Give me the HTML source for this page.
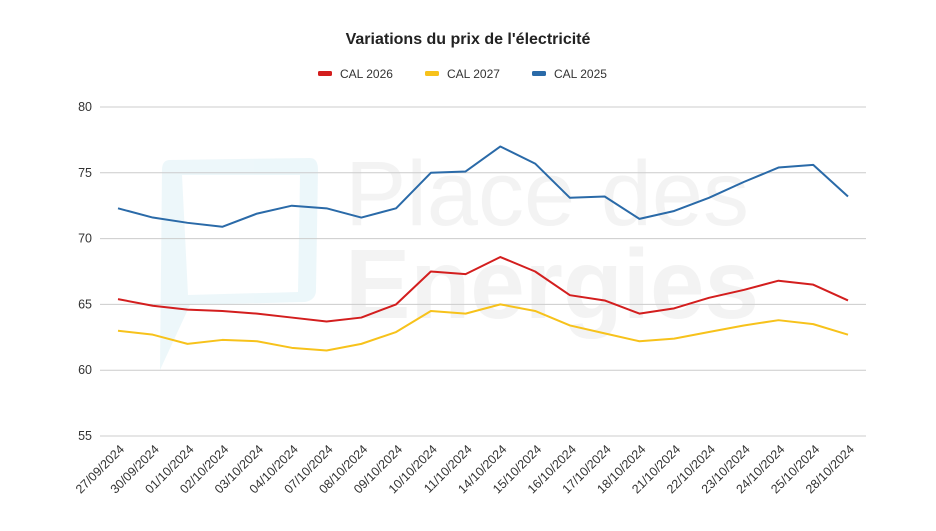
<!DOCTYPE html>
<html><head><meta charset="utf-8"><style>
body{margin:0;background:#fff;font-family:"Liberation Sans",Arial,sans-serif}
svg text{font-family:"Liberation Sans",Arial,sans-serif}
</style></head><body>
<svg width="936" height="526" xmlns="http://www.w3.org/2000/svg">
<g opacity="0.45">
<path d="M170,160 L310,158 Q318,158 318,170 L316,290 Q316,300 305,302 L190,305 L160,370 L162,170 Q162,160 170,160Z M182,175 L188,295 L298,292 L300,175Z" fill="#d7eef5" fill-rule="evenodd"/>
<text x="345" y="225" font-size="92" fill="#e6e6e6">Place des</text>
<text x="345" y="318" font-size="98" font-weight="bold" fill="#e6e6e6">Energies</text>
</g>
<text x="468" y="44" text-anchor="middle" font-size="16" font-weight="bold" fill="#222">Variations du prix de l'électricité</text>
<g id="legend" font-size="12" fill="#333"></g>
<g id="grid"></g>
<g id="lines"></g>
<g id="xlabels" font-size="12.5" fill="#333"></g>
</svg>
<script>
const categories=["27/09/2024","30/09/2024","01/10/2024","02/10/2024","03/10/2024","04/10/2024","07/10/2024","08/10/2024","09/10/2024","10/10/2024","11/10/2024","14/10/2024","15/10/2024","16/10/2024","17/10/2024","18/10/2024","21/10/2024","22/10/2024","23/10/2024","24/10/2024","25/10/2024","28/10/2024"];
const cal2026=[65.4,64.9,64.6,64.5,64.3,64.0,63.7,64.0,65.0,67.5,67.3,68.6,67.5,65.7,65.3,64.3,64.7,65.5,66.1,66.8,66.5,65.3];
const cal2027=[63.0,62.7,62.0,62.3,62.2,61.7,61.5,62.0,62.9,64.5,64.3,65.0,64.5,63.4,62.8,62.2,62.4,62.9,63.4,63.8,63.5,62.7];
const cal2025=[72.3,71.6,71.2,70.9,71.9,72.5,72.3,71.6,72.3,75.0,75.1,77.0,75.7,73.1,73.2,71.5,72.1,73.1,74.3,75.4,75.6,73.2];
const yTicks=[55,60,65,70,75,80];
const seriesNames=["CAL 2026","CAL 2027","CAL 2025"];
const NS="http://www.w3.org/2000/svg";
const x0=118,x1=848,yTop=107,yBot=436,yMin=55,yMax=80;
function xs(i){return x0+i*(x1-x0)/(categories.length-1);}
function ys(v){return yBot-(v-yMin)/(yMax-yMin)*(yBot-yTop);}
function mk(t,a,p){const e=document.createElementNS(NS,t);for(const k in a)e.setAttribute(k,a[k]);p.appendChild(e);return e;}
const grid=document.getElementById('grid');
yTicks.forEach(v=>{
 const l=mk('line',{x1:100,x2:866,y1:ys(v),y2:ys(v),stroke:'#ccc','stroke-width':1},grid);
 
 
 const t=mk('text',{x:92,y:ys(v)+4,'text-anchor':'end','font-size':12.5,fill:'#333'},grid);
 t.textContent=v;
 
 
});
const xl=document.getElementById('xlabels');
categories.forEach((c,i)=>{
 const ax=xs(i)+7,ay=450;
 const t=mk('text',{x:ax,y:ay,'text-anchor':'end',transform:`rotate(-45 ${ax} ${ay})`},xl);
 t.textContent=c;
 
 
});
const colors=["#d31e1e","#f7c21b","#2a6aa8"];
const data=[cal2026,cal2027,cal2025];
const lines=document.getElementById('lines');
[2,0,1].forEach(s=>{
 const p=mk('polyline',{points:data[s].map((v,i)=>xs(i)+','+ys(v)).join(' '),fill:'none',stroke:colors[s],'stroke-width':2,'stroke-linejoin':'round'},lines);
 
 
});
const lg=document.getElementById('legend');
const lx=[318,425,532];
seriesNames.forEach((n,s)=>{
 const g=mk('g',{},lg);
 
 
 mk('rect',{x:lx[s],y:71,width:14,height:5,rx:1.5,fill:colors[s]},g);
 const t=mk('text',{x:lx[s]+22,y:78},g);t.textContent=n;
});
</script>
</body></html>
